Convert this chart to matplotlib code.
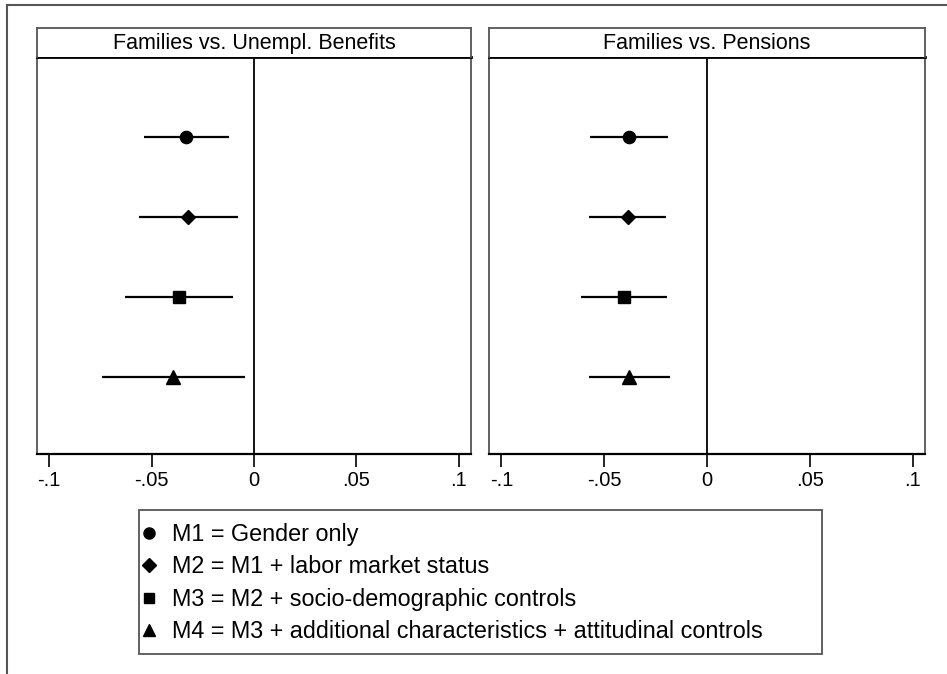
import matplotlib
matplotlib.use("Agg")
from matplotlib import pyplot as plt
from matplotlib.lines import Line2D
from matplotlib.patches import Rectangle

plt.rcParams['font.family'] = ['Liberation Sans', 'DejaVu Sans']

# model labels and markers
models = ["M1 = Gender only",
          "M2 = M1 + labor market status",
          "M3 = M2 + socio-demographic controls",
          "M4 = M3 + additional characteristics + attitudinal controls"]
markers = ["o", "D", "s", "^"]
marker_sizes = [8.8, 7.6, 8.4, 9.4]

panel_titles = ["Families vs. Unempl. Benefits", "Families vs. Pensions"]

# point estimates and confidence intervals
unempl_est = [-0.0330, -0.0324, -0.0367, -0.0394]
unempl_lo = [-0.0537, -0.0563, -0.0629, -0.0743]
unempl_hi = [-0.0122, -0.0080, -0.0102, -0.0044]

pens_est = [-0.0378, -0.0386, -0.0404, -0.0377]
pens_lo = [-0.0568, -0.0572, -0.0614, -0.0572]
pens_hi = [-0.0188, -0.0199, -0.0193, -0.0180]

xticks = [-0.1, -0.05, 0, 0.05, 0.1]
xticklabels = ["-.1", "-.05", "0", ".05", ".1"]

W, H = 947, 674
fig = plt.figure(figsize=(W / 100, H / 100), dpi=100)

# outer frame (cropped at right and bottom)
frame_col = "#555555"
fig.add_artist(Line2D([7 / W, 1], [1 - 5 / H, 1 - 5 / H], color=frame_col, lw=1.5))
fig.add_artist(Line2D([7 / W, 7 / W], [0, 1 - 5 / H], color=frame_col, lw=1.5))

panels = [(37, 471, unempl_est, unempl_lo, unempl_hi),
          (489, 925, pens_est, pens_lo, pens_hi)]
top, strip_bottom, bottom = 28, 57, 454

for i, (x0, x1, est, lo, hi) in enumerate(panels):
    ax = fig.add_axes([x0 / W, 1 - bottom / H, (x1 - x0) / W, (bottom - strip_bottom) / H])
    for j in range(len(models)):
        y = j + 1
        ax.plot([lo[j], hi[j]], [y, y], color="black", lw=1.6, solid_capstyle="butt")
        ax.plot(est[j], y, marker=markers[j], color="black", markersize=marker_sizes[j],
                linestyle="none")
    ax.axvline(0, color="black", lw=1.3)
    ax.set_xlim(-0.106, 0.106)
    ax.set_ylim(4.97, 0.0)
    ax.set_yticks([])
    ax.set_xticks(xticks)
    ax.set_xticklabels(xticklabels, fontsize=14.5)
    ax.tick_params(axis="x", direction="out", length=9, width=1.2, pad=3, colors="black")
    for side in ["left", "right"]:
        ax.spines[side].set_color(frame_col)
        ax.spines[side].set_linewidth(1.3)
    ax.spines["top"].set_color("black")
    ax.spines["top"].set_linewidth(2)
    ax.spines["bottom"].set_color("black")
    ax.spines["bottom"].set_linewidth(1.6)

    # title strip
    sax = fig.add_axes([x0 / W, 1 - strip_bottom / H, (x1 - x0) / W, (strip_bottom - top) / H])
    sax.set_xticks([])
    sax.set_yticks([])
    for side in ["left", "right", "top"]:
        sax.spines[side].set_color(frame_col)
        sax.spines[side].set_linewidth(1.3)
    sax.spines["bottom"].set_visible(False)
    sax.text(0.5, 0.45, panel_titles[i], ha="center", va="center", fontsize=15.5,
             transform=sax.transAxes)

# legend box
fig.add_artist(Rectangle((139 / W, 1 - 654 / H), (822 - 139) / W, (654 - 510) / H,
                         transform=fig.transFigure, fill=False, edgecolor=frame_col, lw=1.3))
handles = [Line2D([], [], marker=markers[j], color="black", linestyle="none",
                  markersize=marker_sizes[j] - 0.8) for j in range(len(models))]
fig.legend(handles, models, loc="upper left",
           bbox_to_anchor=(142 / W, 1 - 523 / H), fontsize=16.8,
           frameon=False, handlelength=0.6, handletextpad=0.7, labelspacing=0.4,
           borderpad=0, borderaxespad=0)

fig.savefig("out.png", dpi=100)
